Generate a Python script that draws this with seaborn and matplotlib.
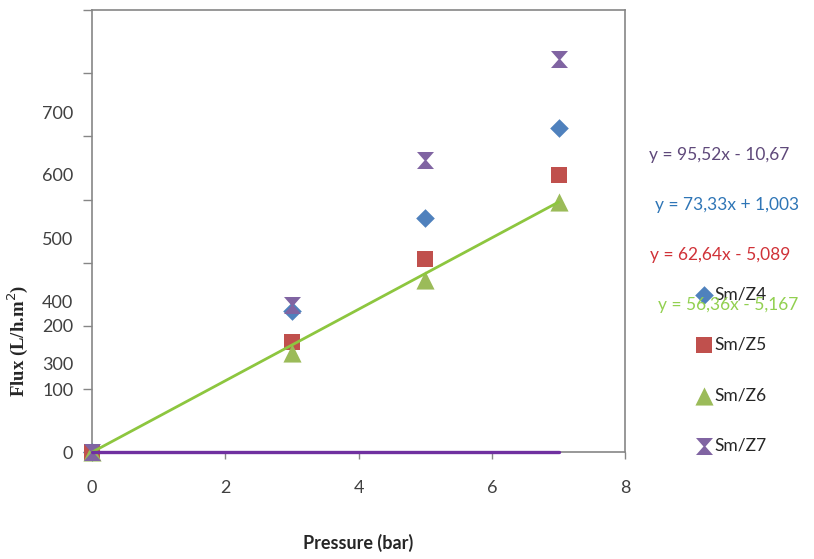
import matplotlib
matplotlib.use('Agg')
import matplotlib.pyplot as plt
import numpy as np
import pandas as pd
import seaborn as sns

sns.set_style('white')
plt.rcParams['font.family'] = ['Lato', 'DejaVu Sans']

# data
pressure = [0, 3, 5, 7]
z4 = [0, 223, 371, 514]
z5 = [0, 175, 306, 439]
z6 = [0, 157, 272, 396]
z7 = [0, 233, 462, 622]
series = ['Sm/Z4', 'Sm/Z5', 'Sm/Z6', 'Sm/Z7']

# trend lines as drawn
trend_x = [0, 7]
z6_trend = [0, 396]
z7_trend = [0, 0]

equations = ['y = 95,52x - 10,67', 'y = 73,33x + 1,003',
             'y = 62,64x - 5,089', 'y = 56,36x - 5,167']

# y tick labels as they appear (some are displaced)
ytick_vals = [0, 100, 200]
ytick_labels = ['0', '100', '200']
ytick_extra_vals = [141, 239, 339, 440, 538]
ytick_extra_labels = ['300', '400', '500', '600', '700']

df = pd.DataFrame({
    'Pressure': pressure * 4,
    'Flux': z4 + z5 + z6 + z7,
    'series': np.repeat(series, 4),
})

colors = {'Sm/Z4': '#4F81BD', 'Sm/Z5': '#C0504D', 'Sm/Z6': '#9BBB59', 'Sm/Z7': '#8064A2'}
hourglass = [(-1, 1), (1, 1), (0.12, 0), (1, -1), (-1, -1), (-0.12, 0), (-1, 1)]
markers = {'Sm/Z4': 'D', 'Sm/Z5': 's', 'Sm/Z6': '^', 'Sm/Z7': hourglass}
sizes = {'Sm/Z4': 90, 'Sm/Z5': 130, 'Sm/Z6': 170, 'Sm/Z7': 150}

fig = plt.figure(figsize=(8.14, 5.59), dpi=100)
ax = fig.add_axes([0.113, 0.191, 0.655, 0.791])

for s in series:
    sub = df[df.series == s]
    sns.scatterplot(data=sub, x='Pressure', y='Flux', color=colors[s],
                    marker=markers[s], s=sizes[s], linewidth=0, ax=ax,
                    label=s, zorder=3, clip_on=False)

ax.plot(trend_x, z6_trend, color='#8DC63F', lw=2, zorder=4, clip_on=False)
ax.plot(trend_x, z7_trend, color='#7030A0', lw=2.4, zorder=4, clip_on=False)

ax.set_xlim(0, 8)
ax.set_ylim(0, 700)
ax.set_xticks([0, 2, 4, 6, 8])
ax.set_yticks(np.arange(0, 701, 100))
ax.set_yticklabels([ytick_labels[i] if i < 3 else '' for i in range(8)])
ax.set_yticks(ytick_extra_vals, labels=ytick_extra_labels, minor=True)
ax.tick_params(axis='y', which='major', direction='out', length=6.5, width=1,
               color='#868686', labelsize=13, labelcolor='#404040', pad=7, left=True)
ax.tick_params(axis='y', which='minor', length=0, labelsize=13,
               labelcolor='#404040', pad=13.5)
ax.tick_params(axis='x', direction='out', length=5, width=1, color='#868686',
               labelsize=13, labelcolor='#404040', pad=15, bottom=True)
for sp in ax.spines.values():
    sp.set_color('#868686')
    sp.set_linewidth(1.2)
    sp.set_visible(True)

ax.set_xlabel('Pressure (bar)', fontsize=13, fontweight='bold', color='#262626', labelpad=27)
ax.set_ylabel('Flux (L/h.m$^{2}$)', fontsize=13.5, fontweight='bold', family='Liberation Serif',
              color='#262626')
ax.yaxis.set_label_coords(-0.117, 0.251)

eq_colors = ['#5F497A', '#2E75B6', '#D03238', '#92D050']
eq_pos = [(0.797, 0.722), (0.805, 0.633), (0.799, 0.544), (0.808, 0.455)]
for t, c, (x, y) in zip(equations, eq_colors, eq_pos):
    fig.text(x, y, t, color=c, fontsize=12.5, va='center')

leg = ax.legend(loc='upper left', bbox_to_anchor=(0.843, 0.5), bbox_transform=fig.transFigure,
                frameon=False, fontsize=12.5, labelspacing=1.98, handletextpad=0.05,
                handlelength=1.2, borderaxespad=0)
for t in leg.get_texts():
    t.set_color('#262626')

fig.savefig('out.png', dpi=100)
